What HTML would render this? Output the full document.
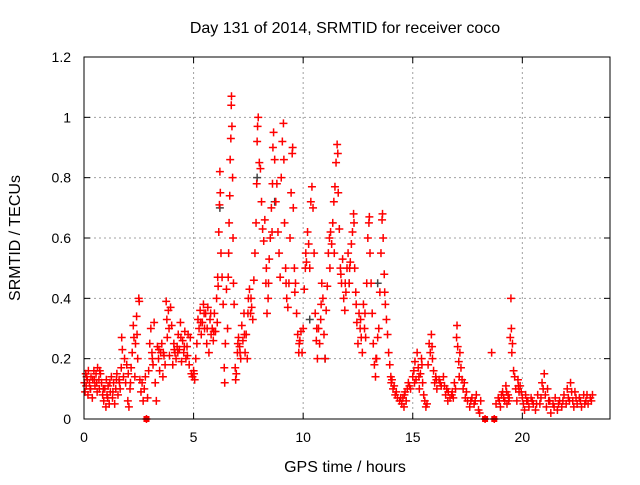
<!DOCTYPE html>
<html><head><meta charset="utf-8"><style>
body{margin:0;background:#fff;}
svg text{font-family:"Liberation Sans","DejaVu Sans",sans-serif;fill:#000;}
</style></head><body>
<svg id="chart" width="640" height="480" xmlns="http://www.w3.org/2000/svg">
<rect width="640" height="480" fill="#fff"/>
<text x="345" y="33" font-size="16" text-anchor="middle">Day 131 of 2014, SRMTID for receiver coco</text>
<text x="345" y="472" font-size="16" text-anchor="middle">GPS time / hours</text>
<text transform="translate(20,238) rotate(-90)" font-size="16" text-anchor="middle">SRMTID / TECUs</text>
<g id="grid"></g><g id="ticks"></g><g id="marks"></g>
<rect x="84" y="57" width="526" height="362" fill="none" stroke="#000" stroke-width="1"/>
</svg>
<script>
const xTicks=[0,5,10,15,20];
const yTicks=[0,0.2,0.4,0.6,0.8,1,1.2];
const yTickLabels=["0","0.2","0.4","0.6","0.8","1","1.2"];
const times=[0.02,0.05,0.08,0.1,0.15,0.18,0.2,0.25,0.3,0.32,0.38,0.4,0.45,0.5,0.55,0.6,0.62,0.68,0.7,0.75,0.8,0.85,0.9,0.95,1.0,1.02,1.08,1.1,1.15,1.2,1.25,1.3,1.35,1.4,1.45,1.5,1.55,1.6,1.65,1.7,1.72,1.75,1.8,1.85,1.9,1.95,2.0,2.02,2.05,2.1,2.15,2.2,2.25,2.28,2.32,2.35,2.4,2.45,2.5,2.52,2.55,2.6,2.65,2.7,2.75,2.8,2.85,2.9,2.95,3.0,3.05,3.1,3.15,3.2,3.25,3.3,3.35,3.4,3.45,3.5,3.55,3.6,3.65,3.7,3.75,3.78,3.8,3.85,3.9,3.95,4.0,4.05,4.1,4.15,4.2,4.25,4.3,4.35,4.4,4.45,4.5,4.55,4.6,4.65,4.7,4.75,4.8,4.85,4.9,4.95,5.0,5.05,5.1,5.15,5.2,5.25,5.3,5.35,5.4,5.45,5.5,5.55,5.6,5.65,5.7,5.75,5.8,5.85,5.9,5.95,6.0,6.05,6.1,6.12,6.15,6.18,6.2,6.22,6.25,6.3,6.35,6.4,6.42,6.45,6.5,6.55,6.6,6.62,6.65,6.67,6.7,6.72,6.73,6.75,6.78,6.8,6.82,6.85,6.9,6.92,6.95,7.0,7.05,7.1,7.15,7.2,7.25,7.3,7.35,7.4,7.45,7.5,7.55,7.6,7.65,7.7,7.75,7.8,7.85,7.88,7.9,7.92,7.95,8.0,8.05,8.1,8.15,8.2,8.25,8.3,8.35,8.4,8.45,8.5,8.55,8.6,8.62,8.65,8.7,8.75,8.8,8.85,8.9,8.95,9.0,9.05,9.1,9.12,9.15,9.2,9.25,9.3,9.35,9.4,9.45,9.5,9.52,9.55,9.6,9.65,9.7,9.75,9.8,9.85,9.9,9.95,10.0,10.05,10.1,10.15,10.2,10.25,10.3,10.35,10.4,10.45,10.5,10.55,10.6,10.65,10.7,10.75,10.8,10.85,10.9,10.95,11.0,11.05,11.1,11.15,11.2,11.25,11.3,11.35,11.4,11.45,11.5,11.55,11.58,11.6,11.65,11.7,11.75,11.8,11.85,11.9,11.95,12.0,12.05,12.1,12.15,12.2,12.25,12.3,12.32,12.35,12.4,12.45,12.5,12.55,12.6,12.65,12.7,12.75,12.8,12.85,12.9,12.95,13.0,13.02,13.05,13.1,13.15,13.2,13.25,13.3,13.35,13.4,13.45,13.5,13.55,13.6,13.62,13.65,13.7,13.75,13.8,13.85,13.9,13.95,14.0,14.05,14.1,14.15,14.2,14.3,14.4,14.5,14.55,14.6,14.65,14.7,14.75,14.8,14.9,15.0,15.05,15.1,15.15,15.2,15.25,15.3,15.35,15.4,15.45,15.5,15.55,15.6,15.65,15.7,15.75,15.8,15.85,15.9,15.95,16.0,16.05,16.1,16.2,16.3,16.4,16.5,16.55,16.6,16.7,16.8,16.85,16.9,16.95,17.0,17.02,17.05,17.1,17.15,17.2,17.25,17.3,17.35,17.4,17.5,17.6,17.7,17.8,17.9,18.0,18.05,18.1,18.3,18.6,18.72,18.8,18.9,19.0,19.1,19.2,19.25,19.3,19.35,19.4,19.45,19.48,19.5,19.52,19.55,19.6,19.65,19.7,19.75,19.8,19.85,19.9,20.0,20.05,20.1,20.15,20.2,20.3,20.4,20.5,20.6,20.7,20.8,20.9,20.95,21.0,21.05,21.1,21.2,21.3,21.4,21.5,21.6,21.7,21.8,21.9,22.0,22.05,22.1,22.2,22.3,22.35,22.4,22.5,22.6,22.7,22.8,22.9,23.0,23.1,23.2];
const values=[.12,.09,.15,.11,.13,.08,.16,.12,.1,.14,.07,.13,.16,.11,.15,.09,.17,.13,.1,.15,.12,.08,.06,.1,.04,.13,.07,.11,.05,.09,.14,.07,.12,.05,.1,.15,.08,.13,.1,.17,.27,.23,.14,.2,.12,.18,.06,.15,.04,.1,.17,.22,.31,.27,.14,.25,.34,.2,.4,.39,.13,.09,.12,.06,.1,.14,0,.07,.16,.25,.3,.22,.18,.32,.12,.06,.24,.2,.16,.22,.25,.14,.21,.18,.39,.33,.27,.36,.21,.37,.31,.18,.25,.22,.2,.24,.28,.23,.32,.19,.26,.22,.29,.2,.24,.28,.18,.27,.15,.14,.16,.13,.2,.25,.33,.3,.36,.28,.32,.38,.3,.35,.25,.37,.22,.33,.28,.3,.26,.35,.29,.4,.47,.44,.62,.71,.82,.75,.55,.47,.38,.17,.12,.25,.43,.3,.55,.65,.74,.86,.93,1.04,1.07,.97,.8,.6,.45,.38,.17,.13,.15,.22,.27,.24,.2,.31,.26,.35,.22,.28,.2,.4,.43,.35,.37,.33,.46,.55,.65,.78,.92,.97,1.0,.85,.83,.72,.63,.59,.66,.45,.35,.4,.53,.6,.7,.78,.9,.95,.86,.72,.78,.62,.55,.47,.8,.92,.98,.86,.65,.5,.4,.37,.45,.6,.75,.88,.9,.7,.5,.45,.35,.28,.22,.26,.29,.22,.3,.43,.5,.52,.62,.58,.5,.72,.77,.7,.55,.35,.26,.2,.3,.25,.33,.45,.4,.28,.2,.36,.44,.55,.6,.62,.58,.65,.72,.77,.85,.91,.88,.75,.63,.5,.45,.53,.4,.36,.42,.5,.55,.45,.52,.58,.62,.68,.65,.5,.42,.32,.25,.35,.3,.27,.22,.38,.3,.27,.45,.6,.65,.67,.55,.45,.35,.25,.18,.14,.2,.27,.3,.42,.55,.66,.68,.6,.48,.38,.33,.28,.22,.18,.14,.13,.1,.11,.08,.07,.06,.05,.07,.04,.09,.06,.1,.12,.1,.14,.16,.19,.13,.22,.17,.1,.15,.2,.12,.08,.06,.04,.05,.18,.25,.22,.28,.2,.16,.12,.14,.1,.13,.11,.14,.08,.1,.06,.07,.09,.07,.12,.1,.27,.31,.24,.19,.22,.17,.13,.1,.12,.07,.06,.04,.07,.05,.08,.03,.02,.06,0,.22,0,.05,.07,.04,.09,.06,.11,.05,.08,.07,.27,.4,.3,.22,.25,.16,.14,.1,.06,.13,.09,.11,.07,.05,.03,.08,.06,.04,.07,.05,.03,.08,.05,.12,.1,.15,.08,.04,.06,.02,.05,.07,.03,.06,.04,.08,.05,.1,.07,.12,.06,.04,.09,.05,.07,.04,.08,.06,.05,.07,.08];
const extraTimes=[0.12,0.28,0.48,0.58,0.72,0.88,1.05,1.18,1.32,1.48,1.62,2.12,2.42,3.12,3.42,3.62,3.88,4.12,4.28,4.42,4.58,4.72,5.02,5.32,5.48,5.62,5.78,5.92,6.08,6.58,7.02,7.12,7.32,7.48,7.62,8.32,8.42,8.58,9.22,9.62,9.82,10.12,10.62,10.82,11.22,11.42,11.72,11.92,12.12,12.42,12.62,12.82,13.32,13.72,14.02,14.25,14.45,14.62,14.85,15.08,15.28,15.42,15.88,16.08,16.25,16.45,16.62,16.78,17.12,17.45,17.65,17.85,18.95,19.05,19.15,19.28,19.38,19.82,19.95,20.25,20.45,20.65,20.85,21.15,21.25,21.45,21.65,21.85,22.15,22.25,22.45,22.65,22.85,22.95,23.15];
const extraValues=[.14,.1,.13,.12,.16,.1,.08,.12,.09,.13,.12,.12,.28,.2,.23,.22,.3,.23,.22,.27,.24,.21,.15,.32,.35,.3,.35,.29,.32,.47,.25,.22,.28,.35,.4,.5,.45,.62,.45,.42,.25,.55,.3,.38,.5,.55,.48,.45,.5,.38,.33,.35,.2,.42,.12,.09,.07,.08,.11,.12,.14,.18,.24,.13,.12,.11,.09,.08,.14,.09,.06,.06,.06,.08,.07,.09,.06,.11,.09,.06,.06,.05,.07,.1,.06,.04,.05,.06,.06,.09,.07,.06,.05,.08,.06];
const grayTimes=[6.2,7.9,8.7,10.3,11.0,12.1,13.4];
const grayValues=[.7,.8,.72,.33,.2,.45,.45];

const X0=84,X1=610,Y0=419,Y1=57,XMAX=24,YMAX=1.2;
function xs(t){return X0+(X1-X0)*t/XMAX;}
function ys(v){return Y0-(Y0-Y1)*v/YMAX;}
const NS="http://www.w3.org/2000/svg";
function mk(tag,attrs,parent){const e=document.createElementNS(NS,tag);for(const k in attrs)e.setAttribute(k,attrs[k]);parent.appendChild(e);return e;}
const grid=document.getElementById('grid'),ticks=document.getElementById('ticks'),marks=document.getElementById('marks');
xTicks.forEach(t=>{const x=xs(t);
  if(t>0){const g=mk('line',{x1:x,y1:Y0,x2:x,y2:Y1,stroke:'#a0a0a0','stroke-dasharray':'2,3'},grid);
  
  }
  mk('line',{x1:x,y1:Y0,x2:x,y2:Y0-6,stroke:'#000'},ticks);
  mk('line',{x1:x,y1:Y1,x2:x,y2:Y1+6,stroke:'#000'},ticks);
  const l=mk('text',{x:x,y:Y0+23,'font-size':'14','text-anchor':'middle'},ticks);l.textContent=t;
  
  });
yTicks.forEach((v,i)=>{const y=ys(v);
  if(v>0&&v<YMAX){const g=mk('line',{x1:X0,y1:y,x2:X1,y2:y,stroke:'#a0a0a0','stroke-dasharray':'2,3'},grid);
  
  }
  mk('line',{x1:X0,y1:y,x2:X0+6,y2:y,stroke:'#000'},ticks);
  mk('line',{x1:X1,y1:y,x2:X1-6,y2:y,stroke:'#000'},ticks);
  const l=mk('text',{x:X0-13,y:y+5,'font-size':'14','text-anchor':'end'},ticks);l.textContent=yTickLabels[i];
  
  });
function plus(t,v,color,name){const x=xs(t),y=ys(v);
  const p=mk('path',{d:`M${x-4} ${y}H${x+4}M${x} ${y-4}V${y+4}`,stroke:color,'stroke-width':'1.5',fill:'none'},marks);
  
  
  if(v===0){const r=mk('rect',{x:x-3,y:y-3,width:6,height:6,fill:color},marks);
  
  }}
grayTimes.forEach((t,i)=>plus(t,grayValues[i],'#444','gray-point'));
times.forEach((t,i)=>plus(t,values[i],'#ff0000','srmtid-point'));
extraTimes.forEach((t,i)=>plus(t,extraValues[i],'#ff0000','srmtid-point'));
</script>
</body></html>
